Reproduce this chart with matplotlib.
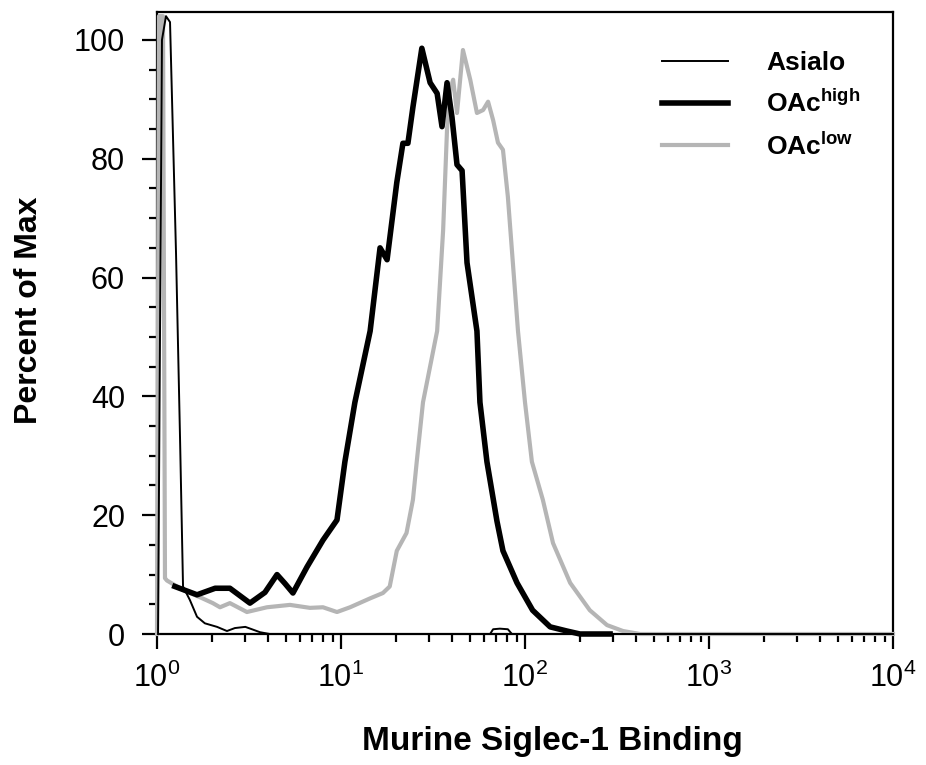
import numpy as np
import matplotlib
matplotlib.use('Agg')
import matplotlib.pyplot as plt
from matplotlib.ticker import MultipleLocator, LogLocator, NullFormatter

plt.rcParams['font.family'] = ['Liberation Sans', 'DejaVu Sans']
plt.rcParams['mathtext.fontset'] = 'custom'
plt.rcParams['mathtext.rm'] = 'Liberation Sans'
plt.rcParams['mathtext.bf'] = 'Liberation Sans:bold'

# Asialo (thin black)
asialo_x = [1.013, 1.064, 1.119, 1.177, 1.269, 1.334, 1.385, 1.51, 1.65, 1.82, 2.12, 2.40,
            2.65, 3.02, 3.28, 3.63, 4.1, 64.6, 67.1, 73.0, 80.7, 84.9, 10000]
asialo_y = [0, 100, 104, 103, 64, 33, 8, 5.7, 2.9, 1.8, 1.2, 0.5,
            1.0, 1.2, 0.8, 0.3, 0, 0, 0.8, 0.9, 0.8, 0, 0]

# OAc high (thick black)
high_x = [1.25, 1.65, 2.07, 2.49, 3.20, 3.86, 4.49, 4.96, 5.48, 6.54, 7.98, 9.51, 10.5,
          11.9, 14.4, 16.3, 17.8, 20.1, 21.7, 23.1, 24.6, 27.5, 30.5, 33.3, 35.4, 37.7,
          40.1, 42.7, 45.5, 48.4, 54.8, 56.9, 62.1, 70.4, 75.9, 90.5, 110, 137, 169, 199, 290]
high_y = [8, 6.6, 7.7, 7.7, 5.2, 7, 10, 8.5, 6.9, 11.3, 15.8, 19.2, 29,
          39, 51, 65, 63, 76, 82.6, 82.6, 88.7, 98.6, 92.8, 91, 85.4, 92.8,
          87, 79, 78, 62.5, 51, 39, 29, 19, 14, 8.6, 4, 1.2, 0.5, 0, 0]

# OAc low (grey)
low_x = [1.0, 1.025, 1.078, 1.105, 1.133, 1.385, 1.71, 2.01, 2.20, 2.49, 3.08, 3.96, 5.28,
         6.78, 7.98, 9.51, 11.2, 14.4, 16.9, 18.4, 20.1, 22.7, 24.6, 25.8, 27.9, 33.3,
         35.9, 37.7, 39.2, 40.7, 42.7, 46.0, 50.4, 54.8, 59.2, 63.0, 67.1, 71.3, 75.9,
         80.7, 85.9, 91.6, 100, 109, 125, 142, 176, 225, 279, 341, 422, 10000]
low_y = [0, 104, 104, 9.4, 9, 7.4, 6.2, 5.2, 4.5, 5.2, 3.7, 4.5, 4.9,
         4.4, 4.5, 3.7, 4.5, 6, 6.9, 8, 14, 17, 22.6, 29, 39, 51,
         68, 85, 91.6, 93.3, 87.7, 98.3, 93.3, 87.7, 88.2, 89.6, 86.5, 82.7, 81.5,
         73.6, 62.5, 51, 39, 29, 22.6, 15.3, 8.6, 4, 1.5, 0.5, 0, 0]

fig = plt.figure(figsize=(9.26, 7.65), dpi=100)
ax = fig.add_axes([157/926, 1-634/765, (893-157)/926, (634-12)/765])

grey = '#b5b5b5'
l_low, = ax.plot(low_x, low_y, color=grey, linewidth=3, zorder=3, clip_on=False)
l_high, = ax.plot(high_x, high_y, color='black', linewidth=4, zorder=4, clip_on=False)
l_asialo, = ax.plot(asialo_x, asialo_y, color='black', linewidth=1.4, zorder=5, clip_on=False)

ax.set_xscale('log')
ax.set_xlim(1, 1e4)
ax.set_ylim(0, 104.7)
ax.set_yticks([0, 20, 40, 60, 80, 100])
ax.yaxis.set_minor_locator(MultipleLocator(5))
ax.xaxis.set_major_locator(LogLocator(base=10))
ax.xaxis.set_minor_locator(LogLocator(base=10, subs=np.arange(2, 10)))
ax.xaxis.set_minor_formatter(NullFormatter())

for s in ax.spines.values():
    s.set_linewidth(1.6)
ax.tick_params(which='major', direction='out', length=11, width=1.6, labelsize=22)
ax.tick_params(axis='y', which='major', pad=12)
ax.tick_params(axis='x', which='major', pad=10)
ax.tick_params(which='minor', direction='out', length=6, width=1.6)

ax.set_ylabel('Percent of Max', fontsize=23, fontweight='bold')
ax.yaxis.set_label_coords(-0.1535, (634-310)/622)
ax.set_xlabel('Murine Siglec-1 Binding', fontsize=24, fontweight='bold')
ax.xaxis.set_label_coords((552-157)/736, -0.148)

ax.legend([l_asialo, l_high, l_low],
          ['Asialo', r'OAc$^{\mathbf{high}}$', r'OAc$^{\mathbf{low}}$'],
          loc='upper left', bbox_to_anchor=(662/926, 1-51/765), bbox_transform=fig.transFigure,
          frameon=False, borderpad=0, borderaxespad=0, handlelength=2.5, handletextpad=1.45,
          labelspacing=0.55, prop={'size': 19, 'weight': 'bold'})

fig.savefig('out.png', dpi=100)
